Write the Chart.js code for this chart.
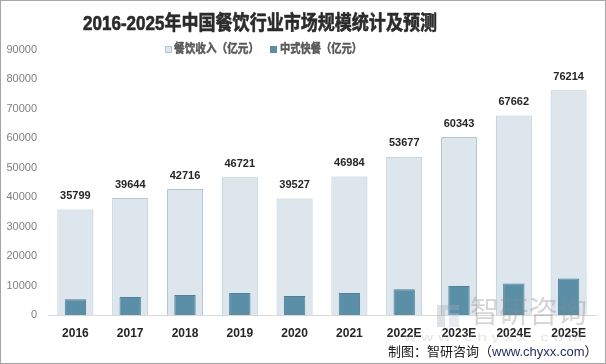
<!DOCTYPE html>
<html><head><meta charset="utf-8">
<script src="https://cdn.jsdelivr.net/npm/chart.js@4/dist/chart.umd.min.js"></script>
<style>html,body{margin:0;padding:0;background:#fff}#w{width:606px;height:364px;position:relative}</style>
</head><body><div id="w"><canvas id="c" width="606" height="364"></canvas></div>
<script>
const categories = ['2016','2017','2018','2019','2020','2021','2022E','2023E','2024E','2025E'];
const revenue = [35799, 39644, 42716, 46721, 39527, 46984, 53677, 60343, 67662, 76214];
const fastFood = [5300, 6100, 6800, 7450, 6450, 7450, 8700, 9800, 10700, 12400];
const yTicks = [0, 10000, 20000, 30000, 40000, 50000, 60000, 70000, 80000, 90000];
const seriesNames = ['餐饮收入（亿元）', '中式快餐（亿元）'];
const titleText = '2016-2025年中国餐饮行业市场规模统计及预测';
const sourceParts = ['制图：智研咨询（', 'www.chyxx.com', '）'];
const watermarkName = '智研咨询';
const watermarkUrl = 'w w w . c h y x x . c o m';

const CJK = "'Liberation Sans','Noto Sans CJK SC',sans-serif";
const LIGHT = '#dde6ed', LIGHT_BORDER = '#b3c7d4', DARK = '#5b8fa7', DARK_BORDER = '#4f8099';

function fitText(ctx, text, x, y, font, color, width, align, strokeW) {
  ctx.save();
  ctx.font = font; ctx.fillStyle = color; ctx.strokeStyle = color;
  ctx.textBaseline = 'middle'; ctx.textAlign = 'left';
  const w = ctx.measureText(text).width;
  const sx = width ? width / w : 1;
  const drawW = w * sx;
  let left = x;
  if (align === 'center') left = x - drawW / 2;
  else if (align === 'right') left = x - drawW;
  ctx.translate(left, y); ctx.scale(sx, 1);
  ctx.fillText(text, 0, 0);
  if (strokeW) { ctx.lineWidth = strokeW; ctx.lineJoin = 'round'; ctx.strokeText(text, 0, 0); }
  ctx.restore();
  return drawW;
}

const extras = {
  id: 'extras',
  afterDatasetsDraw(chart) {
    const ctx = chart.ctx;
    const meta = chart.getDatasetMeta(0);
    ctx.save();
    ctx.font = "bold 11px 'Liberation Sans',sans-serif";
    ctx.fillStyle = '#262626'; ctx.textAlign = 'center'; ctx.textBaseline = 'middle';
    meta.data.forEach((el, i) => { ctx.fillText(String(revenue[i]), el.x, el.y - 13.5); });
    ctx.restore();
  },
  afterDraw(chart) {
    const ctx = chart.ctx;
    // title
    fitText(ctx, titleText, 83, 24, "bold 20px " + CJK, '#2b2b2b', 354, 'left', 0.6);
    // legend
    ctx.save();
    ctx.fillStyle = LIGHT; ctx.strokeStyle = LIGHT_BORDER; ctx.lineWidth = 1;
    ctx.fillRect(165, 46, 6, 6); ctx.strokeRect(165.5, 46.5, 6, 6);
    ctx.fillStyle = DARK; ctx.fillRect(270, 46, 7, 7);
    ctx.restore();
    fitText(ctx, seriesNames[0], 174, 49.5, "bold 12px " + CJK, '#595959', 85, 'left', 0.5);
    fitText(ctx, seriesNames[1], 280, 49.5, "bold 12px " + CJK, '#595959', 82, 'left', 0.5);
    // watermark
    ctx.save();
    ctx.globalAlpha = 0.35;
    ctx.fillStyle = '#9aa9b8';
    ctx.fillRect(437, 305, 8, 22);
    ctx.fillRect(445, 305, 14, 5);
    ctx.fillStyle = '#b8c6d6';
    ctx.fillRect(449, 313, 10, 14);
    ctx.restore();
    ctx.save(); ctx.globalAlpha = 0.35;
    fitText(ctx, watermarkName, 470, 314, "30px " + CJK, '#8a8a8a', 117, 'left');
    fitText(ctx, watermarkUrl, 404, 338, "11px 'Liberation Sans',sans-serif", '#b0b0b0', 178, 'left');
    ctx.restore();
    // source
    ctx.save();
    ctx.font = "13px " + CJK; ctx.textBaseline = 'middle'; ctx.textAlign = 'left';
    let x = 388;
    const cols = ['#1a1a1a', '#1f2a5c', '#1a1a1a'];
    sourceParts.forEach((p, i) => { ctx.fillStyle = cols[i]; ctx.fillText(p, x, 352); x += ctx.measureText(p).width; });
    ctx.restore();
    // border
    ctx.save(); ctx.strokeStyle = '#a6a6a6'; ctx.lineWidth = 1; ctx.strokeRect(0.5, 0.5, 605, 363); ctx.restore();
  }
};

new Chart(document.getElementById('c'), {
  type: 'bar',
  data: {
    labels: categories,
    datasets: [
      { label: seriesNames[0], data: revenue, backgroundColor: LIGHT, borderColor: LIGHT_BORDER, borderWidth: 1,
        grouped: false, barPercentage: 0.657, categoryPercentage: 1, order: 1 },
      { label: seriesNames[1], data: fastFood, backgroundColor: DARK, borderColor: DARK_BORDER, borderWidth: 1,
        grouped: false, barPercentage: 0.39, categoryPercentage: 1, order: 0 }
    ]
  },
  options: {
    responsive: false, animation: false, devicePixelRatio: 1,
    layout: { padding: { top: 49.5, right: 10, left: 0, bottom: 0 } },
    plugins: { legend: { display: false }, title: { display: false }, tooltip: { enabled: false } },
    scales: {
      x: {
        grid: { display: false, drawTicks: false },
        border: { display: true, color: '#d9d9d9', width: 1 },
        ticks: { padding: 11, color: '#262626', font: { family: "'Liberation Sans',sans-serif", size: 12, weight: 'bold' }, maxRotation: 0 },
        afterFit: s => { s.height = 49; }
      },
      y: {
        min: 0, max: 90000,
        grid: { display: false, drawTicks: false },
        border: { display: false },
        ticks: { padding: 11, color: '#7f7f7f', font: { family: "'Liberation Sans',sans-serif", size: 11 },
                 callback: v => String(v) },
        afterBuildTicks: s => { s.ticks = yTicks.map(v => ({ value: v })); },
        afterFit: s => { s.width = 48; }
      }
    }
  },
  plugins: [extras]
});
</script></body></html>
